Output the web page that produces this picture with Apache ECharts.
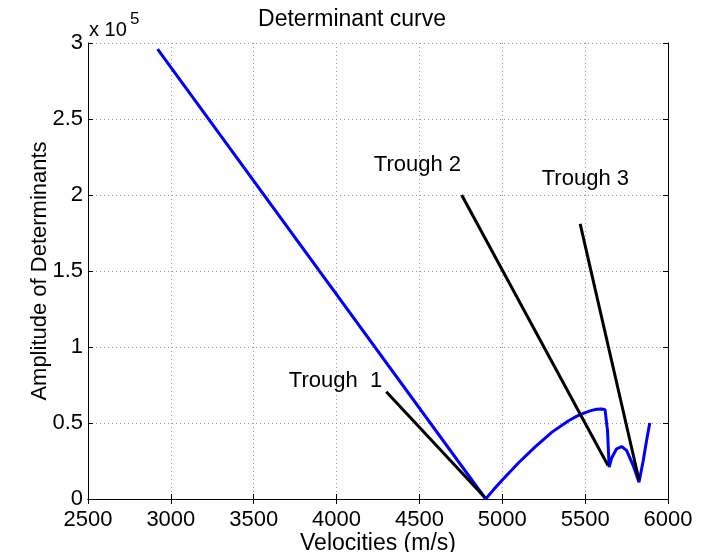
<!DOCTYPE html>
<html>
<head>
<meta charset="utf-8">
<script src="https://cdn.jsdelivr.net/npm/echarts@6/dist/echarts.min.js"></script>
<style>
  html, body { margin: 0; padding: 0; background: #fff; }
  #chart { width: 704px; height: 552px; }
</style>
</head>
<body>
<div id="chart"></div>
<script>
// determinant curve (velocity m/s, amplitude)
const velocities = [2920, 4900, 4950, 5000, 5100, 5200, 5300, 5400, 5450, 5500, 5540, 5570, 5600, 5620, 5635, 5645, 5660, 5690, 5720, 5750, 5790, 5825, 5850, 5870, 5890];
const amplitudes = [296000, 0, 6500, 12500, 24000, 34500, 44000, 51500, 54500, 56800, 58300, 59000, 59200, 58800, 45000, 21000, 27000, 33000, 34500, 32000, 22000, 11000, 25000, 38000, 50000];

// trough pointer lines: [startV, startA, endV, endA]
const trough1 = [4300, 70500, 4895, 1000];
const trough2 = [4755, 200000, 5638, 22000];
const trough3 = [5470, 181000, 5825, 12500];

// trough labels anchored at their left-middle point
const troughLabels = ["Trough  1", "Trough 2", "Trough 3"];
const troughLabelV = [3712, 4225, 5238];
const troughLabelA = [78000, 219500, 210500];

const xTicks = { min: 2500, max: 6000, step: 500 };
const yTicks = { min: 0, max: 300000, step: 50000 };

const FONT = "Liberation Sans, Arial, sans-serif";
const chart = echarts.init(document.getElementById("chart"));

const grid = { left: 88, right: 36, top: 43, bottom: 53, containLabel: false, outerBoundsMode: "none" };
const dotted = { color: "#9a9a9a", width: 1, type: [1, 3] };

function boxAxis(base, extra) {
  return Object.assign({
    type: "value",
    min: base.min, max: base.max, interval: base.step,
    axisLine: { show: true, lineStyle: { color: "#000", width: 1 } },
    axisTick: { show: true, inside: true, length: 5, lineStyle: { color: "#000" } },
    splitLine: { show: false },
    axisLabel: { show: false },
  }, extra);
}

const pointer = (t) => [[t[0], t[1]], [t[2], t[3]]];

chart.setOption({
  animation: false,
  backgroundColor: "#fff",
  title: {
    text: "Determinant curve",
    left: "center", top: 3,
    textStyle: { fontFamily: FONT, fontSize: 23, fontWeight: "normal", color: "#000" }
  },
  grid,
  xAxis: [
    boxAxis(xTicks, {
      position: "bottom",
      name: "Velocities (m/s)",
      nameLocation: "middle",
      nameGap: 33,
      nameMoveOverlap: false,
      nameTextStyle: { fontFamily: FONT, fontSize: 23, color: "#000" },
      axisLabel: {
        show: true, margin: 10, fontFamily: FONT, fontSize: 22, color: "#000",
        formatter: v => String(v)
      },
      splitLine: { show: true, lineStyle: dotted },
    }),
    boxAxis(xTicks, { position: "top" }),
  ],
  yAxis: [
    boxAxis(yTicks, {
      position: "left",
      name: "Amplitude of Determinants",
      nameLocation: "middle",
      nameGap: 37,
      nameMoveOverlap: false,
      nameTextStyle: { fontFamily: FONT, fontSize: 22, color: "#000" },
      axisLabel: {
        show: true, margin: 5, fontFamily: FONT, fontSize: 22, color: "#000",
        formatter: v => String(v / 1e5)
      },
      splitLine: { show: true, lineStyle: dotted },
    }),
    boxAxis(yTicks, { position: "right" }),
  ],
  graphic: [
    { type: "text", left: 89, top: 20, style: { text: "x 10", fontFamily: FONT, fontSize: 20, fill: "#000" } },
    { type: "text", left: 130, top: 11, style: { text: "5", fontFamily: FONT, fontSize: 17, fill: "#000" } },
  ],
  series: [
    {
      name: "Determinant", type: "line",
      data: velocities.map((v, i) => [v, amplitudes[i]]),
      showSymbol: false, symbol: "none",
      lineStyle: { color: "#0000ff", width: 3 },
      z: 2
    },
    ...[trough1, trough2, trough3].map((t, i) => ({
      name: troughLabels[i], type: "line",
      data: pointer(t),
      symbol: "none",
      lineStyle: { color: "#000", width: 3 },
      z: 3
    })),
    {
      name: "labels", type: "scatter",
      data: troughLabels.map((s, i) => ({ value: [troughLabelV[i], troughLabelA[i]], name: s })),
      symbolSize: 0,
      itemStyle: { opacity: 1 },
      label: {
        show: true, position: "right", distance: 0,
        formatter: p => p.name,
        fontFamily: FONT, fontSize: 22, color: "#000", textBorderWidth: 0
      },
      z: 4
    }
  ]
});
</script>
</body>
</html>
